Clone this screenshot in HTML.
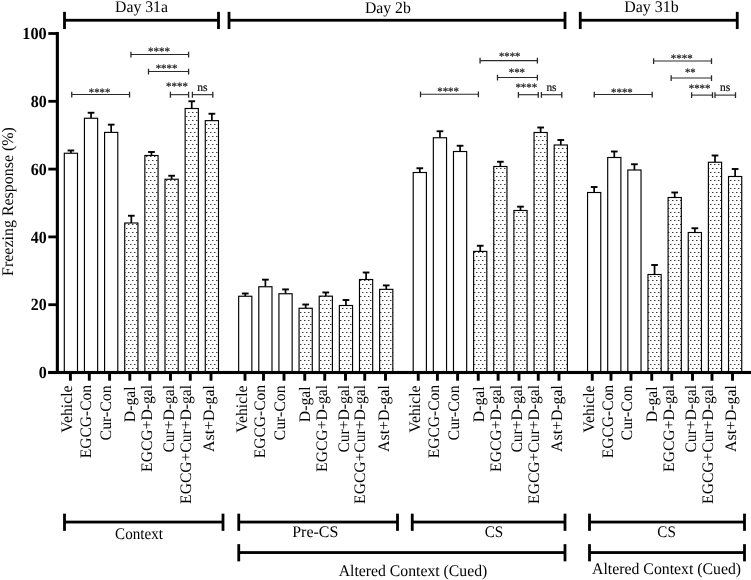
<!DOCTYPE html>
<html><head><meta charset="utf-8"><title>Freezing Response</title>
<style>html,body{margin:0;padding:0;background:#fff;}body{width:751px;height:580px;overflow:hidden;font-family:"Liberation Serif",serif;}svg{display:block;will-change:transform;}</style>
</head><body>
<svg width="751" height="580" viewBox="0 0 751 580" text-rendering="geometricPrecision">
<defs><pattern id="dots" x="0" y="0" width="4" height="8" patternUnits="userSpaceOnUse"><rect x="0" y="0" width="1.45" height="1" fill="#3a3a3a"/><rect x="2" y="4" width="1.45" height="1" fill="#3a3a3a"/></pattern></defs>
<rect width="751" height="580" fill="#fff"/>
<path d="M70.90 153.25V150.50" stroke="#000" stroke-width="1.7" fill="none"/>
<path d="M67.55 150.50H74.25" stroke="#000" stroke-width="1.9" fill="none"/>
<rect x="64.30" y="153.25" width="13.20" height="219.75" fill="#fff"/>
<rect x="64.30" y="153.25" width="13.20" height="219.75" fill="#fff" stroke="#000" stroke-width="1.15"/>
<path d="M91.04 118.25V112.75" stroke="#000" stroke-width="1.7" fill="none"/>
<path d="M87.69 112.75H94.39" stroke="#000" stroke-width="1.9" fill="none"/>
<rect x="84.44" y="118.25" width="13.20" height="254.75" fill="#fff"/>
<rect x="84.44" y="118.25" width="13.20" height="254.75" fill="#fff" stroke="#000" stroke-width="1.15"/>
<path d="M111.18 132.40V124.65" stroke="#000" stroke-width="1.7" fill="none"/>
<path d="M107.83 124.65H114.53" stroke="#000" stroke-width="1.9" fill="none"/>
<rect x="104.58" y="132.40" width="13.20" height="240.60" fill="#fff"/>
<rect x="104.58" y="132.40" width="13.20" height="240.60" fill="#fff" stroke="#000" stroke-width="1.15"/>
<path d="M131.32 223.00V215.75" stroke="#000" stroke-width="1.7" fill="none"/>
<path d="M127.97 215.75H134.67" stroke="#000" stroke-width="1.9" fill="none"/>
<rect x="124.72" y="223.00" width="13.20" height="150.00" fill="#fff"/>
<rect x="124.72" y="223.00" width="13.20" height="150.00" fill="url(#dots)" stroke="#000" stroke-width="1.15"/>
<path d="M151.46 155.50V152.00" stroke="#000" stroke-width="1.7" fill="none"/>
<path d="M148.11 152.00H154.81" stroke="#000" stroke-width="1.9" fill="none"/>
<rect x="144.86" y="155.50" width="13.20" height="217.50" fill="#fff"/>
<rect x="144.86" y="155.50" width="13.20" height="217.50" fill="url(#dots)" stroke="#000" stroke-width="1.15"/>
<path d="M171.60 179.25V175.75" stroke="#000" stroke-width="1.7" fill="none"/>
<path d="M168.25 175.75H174.95" stroke="#000" stroke-width="1.9" fill="none"/>
<rect x="165.00" y="179.25" width="13.20" height="193.75" fill="#fff"/>
<rect x="165.00" y="179.25" width="13.20" height="193.75" fill="url(#dots)" stroke="#000" stroke-width="1.15"/>
<path d="M191.74 108.50V101.25" stroke="#000" stroke-width="1.7" fill="none"/>
<path d="M188.39 101.25H195.09" stroke="#000" stroke-width="1.9" fill="none"/>
<rect x="185.14" y="108.50" width="13.20" height="264.50" fill="#fff"/>
<rect x="185.14" y="108.50" width="13.20" height="264.50" fill="url(#dots)" stroke="#000" stroke-width="1.15"/>
<path d="M211.88 120.65V113.75" stroke="#000" stroke-width="1.7" fill="none"/>
<path d="M208.53 113.75H215.23" stroke="#000" stroke-width="1.9" fill="none"/>
<rect x="205.28" y="120.65" width="13.20" height="252.35" fill="#fff"/>
<rect x="205.28" y="120.65" width="13.20" height="252.35" fill="url(#dots)" stroke="#000" stroke-width="1.15"/>
<path d="M245.25 296.25V293.50" stroke="#000" stroke-width="1.7" fill="none"/>
<path d="M241.90 293.50H248.60" stroke="#000" stroke-width="1.9" fill="none"/>
<rect x="238.65" y="296.25" width="13.20" height="76.75" fill="#fff"/>
<rect x="238.65" y="296.25" width="13.20" height="76.75" fill="#fff" stroke="#000" stroke-width="1.15"/>
<path d="M265.39 286.75V279.65" stroke="#000" stroke-width="1.7" fill="none"/>
<path d="M262.04 279.65H268.74" stroke="#000" stroke-width="1.9" fill="none"/>
<rect x="258.79" y="286.75" width="13.20" height="86.25" fill="#fff"/>
<rect x="258.79" y="286.75" width="13.20" height="86.25" fill="#fff" stroke="#000" stroke-width="1.15"/>
<path d="M285.53 293.75V289.40" stroke="#000" stroke-width="1.7" fill="none"/>
<path d="M282.18 289.40H288.88" stroke="#000" stroke-width="1.9" fill="none"/>
<rect x="278.93" y="293.75" width="13.20" height="79.25" fill="#fff"/>
<rect x="278.93" y="293.75" width="13.20" height="79.25" fill="#fff" stroke="#000" stroke-width="1.15"/>
<path d="M305.67 308.25V304.50" stroke="#000" stroke-width="1.7" fill="none"/>
<path d="M302.32 304.50H309.02" stroke="#000" stroke-width="1.9" fill="none"/>
<rect x="299.07" y="308.25" width="13.20" height="64.75" fill="#fff"/>
<rect x="299.07" y="308.25" width="13.20" height="64.75" fill="url(#dots)" stroke="#000" stroke-width="1.15"/>
<path d="M325.81 296.15V292.45" stroke="#000" stroke-width="1.7" fill="none"/>
<path d="M322.46 292.45H329.16" stroke="#000" stroke-width="1.9" fill="none"/>
<rect x="319.21" y="296.15" width="13.20" height="76.85" fill="#fff"/>
<rect x="319.21" y="296.15" width="13.20" height="76.85" fill="url(#dots)" stroke="#000" stroke-width="1.15"/>
<path d="M345.95 305.50V300.00" stroke="#000" stroke-width="1.7" fill="none"/>
<path d="M342.60 300.00H349.30" stroke="#000" stroke-width="1.9" fill="none"/>
<rect x="339.35" y="305.50" width="13.20" height="67.50" fill="#fff"/>
<rect x="339.35" y="305.50" width="13.20" height="67.50" fill="url(#dots)" stroke="#000" stroke-width="1.15"/>
<path d="M366.09 279.50V272.50" stroke="#000" stroke-width="1.7" fill="none"/>
<path d="M362.74 272.50H369.44" stroke="#000" stroke-width="1.9" fill="none"/>
<rect x="359.49" y="279.50" width="13.20" height="93.50" fill="#fff"/>
<rect x="359.49" y="279.50" width="13.20" height="93.50" fill="url(#dots)" stroke="#000" stroke-width="1.15"/>
<path d="M386.23 289.35V285.40" stroke="#000" stroke-width="1.7" fill="none"/>
<path d="M382.88 285.40H389.58" stroke="#000" stroke-width="1.9" fill="none"/>
<rect x="379.63" y="289.35" width="13.20" height="83.65" fill="#fff"/>
<rect x="379.63" y="289.35" width="13.20" height="83.65" fill="url(#dots)" stroke="#000" stroke-width="1.15"/>
<path d="M419.80 172.50V168.25" stroke="#000" stroke-width="1.7" fill="none"/>
<path d="M416.45 168.25H423.15" stroke="#000" stroke-width="1.9" fill="none"/>
<rect x="413.20" y="172.50" width="13.20" height="200.50" fill="#fff"/>
<rect x="413.20" y="172.50" width="13.20" height="200.50" fill="#fff" stroke="#000" stroke-width="1.15"/>
<path d="M439.94 137.75V131.25" stroke="#000" stroke-width="1.7" fill="none"/>
<path d="M436.59 131.25H443.29" stroke="#000" stroke-width="1.9" fill="none"/>
<rect x="433.34" y="137.75" width="13.20" height="235.25" fill="#fff"/>
<rect x="433.34" y="137.75" width="13.20" height="235.25" fill="#fff" stroke="#000" stroke-width="1.15"/>
<path d="M460.08 151.50V145.75" stroke="#000" stroke-width="1.7" fill="none"/>
<path d="M456.73 145.75H463.43" stroke="#000" stroke-width="1.9" fill="none"/>
<rect x="453.48" y="151.50" width="13.20" height="221.50" fill="#fff"/>
<rect x="453.48" y="151.50" width="13.20" height="221.50" fill="#fff" stroke="#000" stroke-width="1.15"/>
<path d="M480.22 251.40V245.75" stroke="#000" stroke-width="1.7" fill="none"/>
<path d="M476.87 245.75H483.57" stroke="#000" stroke-width="1.9" fill="none"/>
<rect x="473.62" y="251.40" width="13.20" height="121.60" fill="#fff"/>
<rect x="473.62" y="251.40" width="13.20" height="121.60" fill="url(#dots)" stroke="#000" stroke-width="1.15"/>
<path d="M500.36 166.50V161.75" stroke="#000" stroke-width="1.7" fill="none"/>
<path d="M497.01 161.75H503.71" stroke="#000" stroke-width="1.9" fill="none"/>
<rect x="493.76" y="166.50" width="13.20" height="206.50" fill="#fff"/>
<rect x="493.76" y="166.50" width="13.20" height="206.50" fill="url(#dots)" stroke="#000" stroke-width="1.15"/>
<path d="M520.50 210.50V206.65" stroke="#000" stroke-width="1.7" fill="none"/>
<path d="M517.15 206.65H523.85" stroke="#000" stroke-width="1.9" fill="none"/>
<rect x="513.90" y="210.50" width="13.20" height="162.50" fill="#fff"/>
<rect x="513.90" y="210.50" width="13.20" height="162.50" fill="url(#dots)" stroke="#000" stroke-width="1.15"/>
<path d="M540.64 132.50V127.50" stroke="#000" stroke-width="1.7" fill="none"/>
<path d="M537.29 127.50H543.99" stroke="#000" stroke-width="1.9" fill="none"/>
<rect x="534.04" y="132.50" width="13.20" height="240.50" fill="#fff"/>
<rect x="534.04" y="132.50" width="13.20" height="240.50" fill="url(#dots)" stroke="#000" stroke-width="1.15"/>
<path d="M560.78 145.00V140.00" stroke="#000" stroke-width="1.7" fill="none"/>
<path d="M557.43 140.00H564.13" stroke="#000" stroke-width="1.9" fill="none"/>
<rect x="554.18" y="145.00" width="13.20" height="228.00" fill="#fff"/>
<rect x="554.18" y="145.00" width="13.20" height="228.00" fill="url(#dots)" stroke="#000" stroke-width="1.15"/>
<path d="M594.15 192.50V187.00" stroke="#000" stroke-width="1.7" fill="none"/>
<path d="M590.80 187.00H597.50" stroke="#000" stroke-width="1.9" fill="none"/>
<rect x="587.55" y="192.50" width="13.20" height="180.50" fill="#fff"/>
<rect x="587.55" y="192.50" width="13.20" height="180.50" fill="#fff" stroke="#000" stroke-width="1.15"/>
<path d="M614.29 157.50V151.50" stroke="#000" stroke-width="1.7" fill="none"/>
<path d="M610.94 151.50H617.64" stroke="#000" stroke-width="1.9" fill="none"/>
<rect x="607.69" y="157.50" width="13.20" height="215.50" fill="#fff"/>
<rect x="607.69" y="157.50" width="13.20" height="215.50" fill="#fff" stroke="#000" stroke-width="1.15"/>
<path d="M634.43 170.00V164.25" stroke="#000" stroke-width="1.7" fill="none"/>
<path d="M631.08 164.25H637.78" stroke="#000" stroke-width="1.9" fill="none"/>
<rect x="627.83" y="170.00" width="13.20" height="203.00" fill="#fff"/>
<rect x="627.83" y="170.00" width="13.20" height="203.00" fill="#fff" stroke="#000" stroke-width="1.15"/>
<path d="M654.57 274.50V265.00" stroke="#000" stroke-width="1.7" fill="none"/>
<path d="M651.22 265.00H657.92" stroke="#000" stroke-width="1.9" fill="none"/>
<rect x="647.97" y="274.50" width="13.20" height="98.50" fill="#fff"/>
<rect x="647.97" y="274.50" width="13.20" height="98.50" fill="url(#dots)" stroke="#000" stroke-width="1.15"/>
<path d="M674.71 197.50V192.50" stroke="#000" stroke-width="1.7" fill="none"/>
<path d="M671.36 192.50H678.06" stroke="#000" stroke-width="1.9" fill="none"/>
<rect x="668.11" y="197.50" width="13.20" height="175.50" fill="#fff"/>
<rect x="668.11" y="197.50" width="13.20" height="175.50" fill="url(#dots)" stroke="#000" stroke-width="1.15"/>
<path d="M694.85 232.50V228.25" stroke="#000" stroke-width="1.7" fill="none"/>
<path d="M691.50 228.25H698.20" stroke="#000" stroke-width="1.9" fill="none"/>
<rect x="688.25" y="232.50" width="13.20" height="140.50" fill="#fff"/>
<rect x="688.25" y="232.50" width="13.20" height="140.50" fill="url(#dots)" stroke="#000" stroke-width="1.15"/>
<path d="M714.99 162.25V155.50" stroke="#000" stroke-width="1.7" fill="none"/>
<path d="M711.64 155.50H718.34" stroke="#000" stroke-width="1.9" fill="none"/>
<rect x="708.39" y="162.25" width="13.20" height="210.75" fill="#fff"/>
<rect x="708.39" y="162.25" width="13.20" height="210.75" fill="url(#dots)" stroke="#000" stroke-width="1.15"/>
<path d="M735.13 176.50V169.00" stroke="#000" stroke-width="1.7" fill="none"/>
<path d="M731.78 169.00H738.48" stroke="#000" stroke-width="1.9" fill="none"/>
<rect x="728.53" y="176.50" width="13.20" height="196.50" fill="#fff"/>
<rect x="728.53" y="176.50" width="13.20" height="196.50" fill="url(#dots)" stroke="#000" stroke-width="1.15"/>
<rect x="55.8" y="31.95" width="3.1" height="342.05" fill="#000"/>
<rect x="48.3" y="370.95" width="702.7" height="3.1" fill="#000"/>
<rect x="48.3" y="371.10" width="9" height="2.8" fill="#000"/>
<text x="46.7" y="378.10" text-anchor="end" textLength="8.0" lengthAdjust="spacingAndGlyphs" font-family="Liberation Serif, serif" font-weight="bold" font-size="17">0</text>
<rect x="48.3" y="303.30" width="9" height="2.8" fill="#000"/>
<text x="46.7" y="310.30" text-anchor="end" textLength="15.9" lengthAdjust="spacingAndGlyphs" font-family="Liberation Serif, serif" font-weight="bold" font-size="17">20</text>
<rect x="48.3" y="235.50" width="9" height="2.8" fill="#000"/>
<text x="46.7" y="242.50" text-anchor="end" textLength="15.9" lengthAdjust="spacingAndGlyphs" font-family="Liberation Serif, serif" font-weight="bold" font-size="17">40</text>
<rect x="48.3" y="167.70" width="9" height="2.8" fill="#000"/>
<text x="46.7" y="174.70" text-anchor="end" textLength="15.9" lengthAdjust="spacingAndGlyphs" font-family="Liberation Serif, serif" font-weight="bold" font-size="17">60</text>
<rect x="48.3" y="99.90" width="9" height="2.8" fill="#000"/>
<text x="46.7" y="106.90" text-anchor="end" textLength="15.9" lengthAdjust="spacingAndGlyphs" font-family="Liberation Serif, serif" font-weight="bold" font-size="17">80</text>
<rect x="48.3" y="32.10" width="9" height="2.8" fill="#000"/>
<text x="46.7" y="39.10" text-anchor="end" textLength="24.4" lengthAdjust="spacingAndGlyphs" font-family="Liberation Serif, serif" font-weight="bold" font-size="17">100</text>
<text transform="translate(12.5,201.5) rotate(-90)" text-anchor="middle" textLength="148.8" lengthAdjust="spacingAndGlyphs" font-family="Liberation Serif, serif" font-size="16.2">Freezing Response (%)</text>
<rect x="68.95" y="373.50" width="2.9" height="7.2" fill="#000"/>
<text transform="translate(72.00,385.5) rotate(-90)" text-anchor="end" textLength="47.2" lengthAdjust="spacingAndGlyphs" font-family="Liberation Serif, serif" font-size="16.0">Vehicle</text>
<rect x="87.85" y="373.50" width="2.9" height="7.2" fill="#000"/>
<text transform="translate(91.15,385.0) rotate(-90)" text-anchor="end" textLength="73.2" lengthAdjust="spacingAndGlyphs" font-family="Liberation Serif, serif" font-size="16.0">EGCG-Con</text>
<rect x="108.15" y="373.50" width="2.9" height="7.2" fill="#000"/>
<text transform="translate(110.90,385.4) rotate(-90)" text-anchor="end" textLength="55.0" lengthAdjust="spacingAndGlyphs" font-family="Liberation Serif, serif" font-size="16.0">Cur-Con</text>
<rect x="128.35" y="373.50" width="2.9" height="7.2" fill="#000"/>
<text transform="translate(135.40,386.4) rotate(-90)" text-anchor="end" textLength="35.8" lengthAdjust="spacingAndGlyphs" font-family="Liberation Serif, serif" font-size="16.0">D-gal</text>
<rect x="148.35" y="373.50" width="2.9" height="7.2" fill="#000"/>
<text transform="translate(152.20,385.0) rotate(-90)" text-anchor="end" textLength="86.9" lengthAdjust="spacingAndGlyphs" font-family="Liberation Serif, serif" font-size="16.0">EGCG+D-gal</text>
<rect x="169.05" y="373.50" width="2.9" height="7.2" fill="#000"/>
<text transform="translate(173.65,384.9) rotate(-90)" text-anchor="end" textLength="67.7" lengthAdjust="spacingAndGlyphs" font-family="Liberation Serif, serif" font-size="16.0">Cur+D-gal</text>
<rect x="188.85" y="373.50" width="2.9" height="7.2" fill="#000"/>
<text transform="translate(191.00,385.0) rotate(-90)" text-anchor="end" textLength="118.9" lengthAdjust="spacingAndGlyphs" font-family="Liberation Serif, serif" font-size="16.0">EGCG+Cur+D-gal</text>
<rect x="209.55" y="373.50" width="2.9" height="7.2" fill="#000"/>
<text transform="translate(214.20,385.1) rotate(-90)" text-anchor="end" textLength="66.8" lengthAdjust="spacingAndGlyphs" font-family="Liberation Serif, serif" font-size="16.0">Ast+D-gal</text>
<rect x="243.55" y="373.50" width="2.9" height="7.2" fill="#000"/>
<text transform="translate(246.60,385.5) rotate(-90)" text-anchor="end" textLength="47.2" lengthAdjust="spacingAndGlyphs" font-family="Liberation Serif, serif" font-size="16.0">Vehicle</text>
<rect x="262.05" y="373.50" width="2.9" height="7.2" fill="#000"/>
<text transform="translate(265.35,385.0) rotate(-90)" text-anchor="end" textLength="73.2" lengthAdjust="spacingAndGlyphs" font-family="Liberation Serif, serif" font-size="16.0">EGCG-Con</text>
<rect x="282.55" y="373.50" width="2.9" height="7.2" fill="#000"/>
<text transform="translate(285.30,385.4) rotate(-90)" text-anchor="end" textLength="55.0" lengthAdjust="spacingAndGlyphs" font-family="Liberation Serif, serif" font-size="16.0">Cur-Con</text>
<rect x="303.30" y="373.50" width="2.9" height="7.2" fill="#000"/>
<text transform="translate(310.35,386.4) rotate(-90)" text-anchor="end" textLength="35.8" lengthAdjust="spacingAndGlyphs" font-family="Liberation Serif, serif" font-size="16.0">D-gal</text>
<rect x="323.30" y="373.50" width="2.9" height="7.2" fill="#000"/>
<text transform="translate(327.15,385.0) rotate(-90)" text-anchor="end" textLength="86.9" lengthAdjust="spacingAndGlyphs" font-family="Liberation Serif, serif" font-size="16.0">EGCG+D-gal</text>
<rect x="344.05" y="373.50" width="2.9" height="7.2" fill="#000"/>
<text transform="translate(348.65,384.9) rotate(-90)" text-anchor="end" textLength="67.7" lengthAdjust="spacingAndGlyphs" font-family="Liberation Serif, serif" font-size="16.0">Cur+D-gal</text>
<rect x="363.30" y="373.50" width="2.9" height="7.2" fill="#000"/>
<text transform="translate(365.45,385.0) rotate(-90)" text-anchor="end" textLength="118.9" lengthAdjust="spacingAndGlyphs" font-family="Liberation Serif, serif" font-size="16.0">EGCG+Cur+D-gal</text>
<rect x="384.05" y="373.50" width="2.9" height="7.2" fill="#000"/>
<text transform="translate(388.70,385.1) rotate(-90)" text-anchor="end" textLength="66.8" lengthAdjust="spacingAndGlyphs" font-family="Liberation Serif, serif" font-size="16.0">Ast+D-gal</text>
<rect x="416.80" y="373.50" width="2.9" height="7.2" fill="#000"/>
<text transform="translate(419.85,385.5) rotate(-90)" text-anchor="end" textLength="47.2" lengthAdjust="spacingAndGlyphs" font-family="Liberation Serif, serif" font-size="16.0">Vehicle</text>
<rect x="435.95" y="373.50" width="2.9" height="7.2" fill="#000"/>
<text transform="translate(439.25,385.0) rotate(-90)" text-anchor="end" textLength="73.2" lengthAdjust="spacingAndGlyphs" font-family="Liberation Serif, serif" font-size="16.0">EGCG-Con</text>
<rect x="456.15" y="373.50" width="2.9" height="7.2" fill="#000"/>
<text transform="translate(458.90,385.4) rotate(-90)" text-anchor="end" textLength="55.0" lengthAdjust="spacingAndGlyphs" font-family="Liberation Serif, serif" font-size="16.0">Cur-Con</text>
<rect x="476.80" y="373.50" width="2.9" height="7.2" fill="#000"/>
<text transform="translate(483.85,386.4) rotate(-90)" text-anchor="end" textLength="35.8" lengthAdjust="spacingAndGlyphs" font-family="Liberation Serif, serif" font-size="16.0">D-gal</text>
<rect x="496.65" y="373.50" width="2.9" height="7.2" fill="#000"/>
<text transform="translate(500.50,385.0) rotate(-90)" text-anchor="end" textLength="86.9" lengthAdjust="spacingAndGlyphs" font-family="Liberation Serif, serif" font-size="16.0">EGCG+D-gal</text>
<rect x="517.55" y="373.50" width="2.9" height="7.2" fill="#000"/>
<text transform="translate(522.15,384.9) rotate(-90)" text-anchor="end" textLength="67.7" lengthAdjust="spacingAndGlyphs" font-family="Liberation Serif, serif" font-size="16.0">Cur+D-gal</text>
<rect x="536.80" y="373.50" width="2.9" height="7.2" fill="#000"/>
<text transform="translate(538.95,385.0) rotate(-90)" text-anchor="end" textLength="118.9" lengthAdjust="spacingAndGlyphs" font-family="Liberation Serif, serif" font-size="16.0">EGCG+Cur+D-gal</text>
<rect x="557.55" y="373.50" width="2.9" height="7.2" fill="#000"/>
<text transform="translate(562.20,385.1) rotate(-90)" text-anchor="end" textLength="66.8" lengthAdjust="spacingAndGlyphs" font-family="Liberation Serif, serif" font-size="16.0">Ast+D-gal</text>
<rect x="590.80" y="373.50" width="2.9" height="7.2" fill="#000"/>
<text transform="translate(593.85,385.5) rotate(-90)" text-anchor="end" textLength="47.2" lengthAdjust="spacingAndGlyphs" font-family="Liberation Serif, serif" font-size="16.0">Vehicle</text>
<rect x="609.55" y="373.50" width="2.9" height="7.2" fill="#000"/>
<text transform="translate(612.85,385.0) rotate(-90)" text-anchor="end" textLength="73.2" lengthAdjust="spacingAndGlyphs" font-family="Liberation Serif, serif" font-size="16.0">EGCG-Con</text>
<rect x="629.55" y="373.50" width="2.9" height="7.2" fill="#000"/>
<text transform="translate(632.30,385.4) rotate(-90)" text-anchor="end" textLength="55.0" lengthAdjust="spacingAndGlyphs" font-family="Liberation Serif, serif" font-size="16.0">Cur-Con</text>
<rect x="650.30" y="373.50" width="2.9" height="7.2" fill="#000"/>
<text transform="translate(657.35,386.4) rotate(-90)" text-anchor="end" textLength="35.8" lengthAdjust="spacingAndGlyphs" font-family="Liberation Serif, serif" font-size="16.0">D-gal</text>
<rect x="670.30" y="373.50" width="2.9" height="7.2" fill="#000"/>
<text transform="translate(674.15,385.0) rotate(-90)" text-anchor="end" textLength="86.9" lengthAdjust="spacingAndGlyphs" font-family="Liberation Serif, serif" font-size="16.0">EGCG+D-gal</text>
<rect x="691.05" y="373.50" width="2.9" height="7.2" fill="#000"/>
<text transform="translate(695.65,384.9) rotate(-90)" text-anchor="end" textLength="67.7" lengthAdjust="spacingAndGlyphs" font-family="Liberation Serif, serif" font-size="16.0">Cur+D-gal</text>
<rect x="710.55" y="373.50" width="2.9" height="7.2" fill="#000"/>
<text transform="translate(712.70,385.0) rotate(-90)" text-anchor="end" textLength="118.9" lengthAdjust="spacingAndGlyphs" font-family="Liberation Serif, serif" font-size="16.0">EGCG+Cur+D-gal</text>
<rect x="731.05" y="373.50" width="2.9" height="7.2" fill="#000"/>
<text transform="translate(735.70,385.1) rotate(-90)" text-anchor="end" textLength="66.8" lengthAdjust="spacingAndGlyphs" font-family="Liberation Serif, serif" font-size="16.0">Ast+D-gal</text>
<rect x="64.50" y="18.85" width="154.00" height="2.8" fill="#000"/>
<rect x="63.10" y="11.85" width="2.8" height="17.20" fill="#000"/>
<rect x="217.10" y="11.85" width="2.8" height="17.20" fill="#000"/>
<text x="141.50" y="12.00" text-anchor="middle" textLength="53" lengthAdjust="spacingAndGlyphs" font-family="Liberation Serif, serif" font-size="16.2" fill="#000">Day 31a</text>
<rect x="229.00" y="18.85" width="336.00" height="2.8" fill="#000"/>
<rect x="227.60" y="11.85" width="2.8" height="17.20" fill="#000"/>
<rect x="563.60" y="11.85" width="2.8" height="17.20" fill="#000"/>
<text x="387.90" y="12.80" text-anchor="middle" textLength="45.8" lengthAdjust="spacingAndGlyphs" font-family="Liberation Serif, serif" font-size="16.2" fill="#000">Day 2b</text>
<rect x="580.25" y="18.85" width="157.00" height="2.8" fill="#000"/>
<rect x="578.85" y="11.85" width="2.8" height="17.20" fill="#000"/>
<rect x="735.85" y="11.85" width="2.8" height="17.20" fill="#000"/>
<text x="651.40" y="12.00" text-anchor="middle" textLength="54.5" lengthAdjust="spacingAndGlyphs" font-family="Liberation Serif, serif" font-size="16.2" fill="#000">Day 31b</text>
<rect x="64.50" y="520.65" width="158.50" height="2.8" fill="#000"/>
<rect x="63.10" y="513.65" width="2.8" height="17.20" fill="#000"/>
<rect x="221.60" y="513.65" width="2.8" height="17.20" fill="#000"/>
<text x="139.00" y="539.25" text-anchor="middle" textLength="47.8" lengthAdjust="spacingAndGlyphs" font-family="Liberation Serif, serif" font-size="16.2" fill="#000">Context</text>
<rect x="238.75" y="520.65" width="158.75" height="2.8" fill="#000"/>
<rect x="237.35" y="513.65" width="2.8" height="17.20" fill="#000"/>
<rect x="396.10" y="513.65" width="2.8" height="17.20" fill="#000"/>
<text x="315.25" y="537.40" text-anchor="middle" textLength="46" lengthAdjust="spacingAndGlyphs" font-family="Liberation Serif, serif" font-size="16.2" fill="#000">Pre-CS</text>
<rect x="412.25" y="520.65" width="152.75" height="2.8" fill="#000"/>
<rect x="410.85" y="513.65" width="2.8" height="17.20" fill="#000"/>
<rect x="563.60" y="513.65" width="2.8" height="17.20" fill="#000"/>
<text x="494.00" y="537.20" text-anchor="middle" textLength="18.5" lengthAdjust="spacingAndGlyphs" font-family="Liberation Serif, serif" font-size="16.2" fill="#000">CS</text>
<rect x="589.50" y="520.65" width="155.00" height="2.8" fill="#000"/>
<rect x="588.10" y="513.65" width="2.8" height="17.20" fill="#000"/>
<rect x="743.10" y="513.65" width="2.8" height="17.20" fill="#000"/>
<text x="666.60" y="537.20" text-anchor="middle" textLength="18.5" lengthAdjust="spacingAndGlyphs" font-family="Liberation Serif, serif" font-size="16.2" fill="#000">CS</text>
<rect x="238.75" y="551.15" width="326.25" height="2.8" fill="#000"/>
<rect x="237.35" y="544.15" width="2.8" height="17.20" fill="#000"/>
<rect x="563.60" y="544.15" width="2.8" height="17.20" fill="#000"/>
<text x="413.00" y="575.80" text-anchor="middle" textLength="148.6" lengthAdjust="spacingAndGlyphs" font-family="Liberation Serif, serif" font-size="16.2" fill="#000">Altered Context (Cued)</text>
<rect x="589.50" y="551.15" width="155.00" height="2.8" fill="#000"/>
<rect x="588.10" y="544.15" width="2.8" height="17.20" fill="#000"/>
<rect x="743.10" y="544.15" width="2.8" height="17.20" fill="#000"/>
<text x="666.60" y="574.00" text-anchor="middle" textLength="149" lengthAdjust="spacingAndGlyphs" font-family="Liberation Serif, serif" font-size="16.2" fill="#000">Altered Context (Cued)</text>
<path d="M71.75 94.50H129.55" stroke="#2a2a2a" stroke-width="1.1" fill="none"/>
<path d="M71.75 91.70V97.50M129.55 91.70V97.50" stroke="#2a2a2a" stroke-width="1.3" fill="none"/>
<text x="99.50" y="96.00" text-anchor="middle" textLength="21.5" lengthAdjust="spacingAndGlyphs" stroke="#222" stroke-width="0.2" font-family="Liberation Serif, serif" font-size="11.6" fill="#222">****</text>
<path d="M130.95 54.50H188.60" stroke="#2a2a2a" stroke-width="1.1" fill="none"/>
<path d="M130.95 51.70V57.50M188.60 51.70V57.50" stroke="#2a2a2a" stroke-width="1.3" fill="none"/>
<text x="158.96" y="55.40" text-anchor="middle" textLength="22.1" lengthAdjust="spacingAndGlyphs" stroke="#222" stroke-width="0.2" font-family="Liberation Serif, serif" font-size="11.6" fill="#222">****</text>
<path d="M148.50 71.50H188.60" stroke="#2a2a2a" stroke-width="1.1" fill="none"/>
<path d="M148.50 68.70V74.50M188.60 68.70V74.50" stroke="#2a2a2a" stroke-width="1.3" fill="none"/>
<text x="166.50" y="71.70" text-anchor="middle" textLength="21.7" lengthAdjust="spacingAndGlyphs" stroke="#222" stroke-width="0.2" font-family="Liberation Serif, serif" font-size="11.6" fill="#222">****</text>
<path d="M170.40 94.65H188.60" stroke="#2a2a2a" stroke-width="1.1" fill="none"/>
<path d="M170.40 91.85V97.65M188.60 91.85V97.65" stroke="#2a2a2a" stroke-width="1.3" fill="none"/>
<text x="177.00" y="90.15" text-anchor="middle" textLength="21.9" lengthAdjust="spacingAndGlyphs" stroke="#222" stroke-width="0.2" font-family="Liberation Serif, serif" font-size="11.6" fill="#222">****</text>
<path d="M192.40 94.65H212.80" stroke="#2a2a2a" stroke-width="1.1" fill="none"/>
<path d="M192.40 91.85V97.65M212.80 91.85V97.65" stroke="#2a2a2a" stroke-width="1.3" fill="none"/>
<text x="202.35" y="90.60" text-anchor="middle" textLength="10.299999999999999" lengthAdjust="spacingAndGlyphs" stroke="#111" stroke-width="0.2" font-family="Liberation Serif, serif" font-size="11.8" fill="#111">ns</text>
<path d="M420.50 94.25H478.40" stroke="#2a2a2a" stroke-width="1.1" fill="none"/>
<path d="M420.50 91.45V97.25M478.40 91.45V97.25" stroke="#2a2a2a" stroke-width="1.3" fill="none"/>
<text x="448.10" y="94.75" text-anchor="middle" textLength="21.75" lengthAdjust="spacingAndGlyphs" stroke="#222" stroke-width="0.2" font-family="Liberation Serif, serif" font-size="11.6" fill="#222">****</text>
<path d="M480.06 60.60H537.40" stroke="#2a2a2a" stroke-width="1.1" fill="none"/>
<path d="M480.06 57.80V63.60M537.40 57.80V63.60" stroke="#2a2a2a" stroke-width="1.3" fill="none"/>
<text x="509.65" y="60.40" text-anchor="middle" textLength="21.5" lengthAdjust="spacingAndGlyphs" stroke="#222" stroke-width="0.2" font-family="Liberation Serif, serif" font-size="11.6" fill="#222">****</text>
<path d="M497.50 77.50H537.40" stroke="#2a2a2a" stroke-width="1.1" fill="none"/>
<path d="M497.50 74.70V80.50M537.40 74.70V80.50" stroke="#2a2a2a" stroke-width="1.3" fill="none"/>
<text x="516.90" y="76.40" text-anchor="middle" textLength="16.4" lengthAdjust="spacingAndGlyphs" stroke="#222" stroke-width="0.2" font-family="Liberation Serif, serif" font-size="11.6" fill="#222">***</text>
<path d="M518.40 94.70H538.25" stroke="#2a2a2a" stroke-width="1.1" fill="none"/>
<path d="M518.40 91.90V97.70M538.25 91.90V97.70" stroke="#2a2a2a" stroke-width="1.3" fill="none"/>
<text x="526.30" y="91.00" text-anchor="middle" textLength="21.8" lengthAdjust="spacingAndGlyphs" stroke="#222" stroke-width="0.2" font-family="Liberation Serif, serif" font-size="11.6" fill="#222">****</text>
<path d="M541.40 94.70H561.80" stroke="#2a2a2a" stroke-width="1.1" fill="none"/>
<path d="M541.40 91.90V97.70M561.80 91.90V97.70" stroke="#2a2a2a" stroke-width="1.3" fill="none"/>
<text x="551.45" y="90.80" text-anchor="middle" textLength="10.1" lengthAdjust="spacingAndGlyphs" stroke="#111" stroke-width="0.2" font-family="Liberation Serif, serif" font-size="11.8" fill="#111">ns</text>
<path d="M594.25 94.50H652.20" stroke="#2a2a2a" stroke-width="1.1" fill="none"/>
<path d="M594.25 91.70V97.50M652.20 91.70V97.50" stroke="#2a2a2a" stroke-width="1.3" fill="none"/>
<text x="621.90" y="95.50" text-anchor="middle" textLength="21.75" lengthAdjust="spacingAndGlyphs" stroke="#222" stroke-width="0.2" font-family="Liberation Serif, serif" font-size="11.6" fill="#222">****</text>
<path d="M653.60 61.00H711.50" stroke="#2a2a2a" stroke-width="1.1" fill="none"/>
<path d="M653.60 58.20V64.00M711.50 58.20V64.00" stroke="#2a2a2a" stroke-width="1.3" fill="none"/>
<text x="681.70" y="62.30" text-anchor="middle" textLength="22.1" lengthAdjust="spacingAndGlyphs" stroke="#222" stroke-width="0.2" font-family="Liberation Serif, serif" font-size="11.6" fill="#222">****</text>
<path d="M671.15 78.00H711.50" stroke="#2a2a2a" stroke-width="1.1" fill="none"/>
<path d="M671.15 75.20V81.00M711.50 75.20V81.00" stroke="#2a2a2a" stroke-width="1.3" fill="none"/>
<text x="690.25" y="76.40" text-anchor="middle" textLength="10.7" lengthAdjust="spacingAndGlyphs" stroke="#222" stroke-width="0.2" font-family="Liberation Serif, serif" font-size="11.6" fill="#222">**</text>
<path d="M691.60 95.10H712.50" stroke="#2a2a2a" stroke-width="1.1" fill="none"/>
<path d="M691.60 92.30V98.10M712.50 92.30V98.10" stroke="#2a2a2a" stroke-width="1.3" fill="none"/>
<text x="699.60" y="91.60" text-anchor="middle" textLength="21.8" lengthAdjust="spacingAndGlyphs" stroke="#222" stroke-width="0.2" font-family="Liberation Serif, serif" font-size="11.6" fill="#222">****</text>
<path d="M715.00 95.10H735.50" stroke="#2a2a2a" stroke-width="1.1" fill="none"/>
<path d="M715.00 92.30V98.10M735.50 92.30V98.10" stroke="#2a2a2a" stroke-width="1.3" fill="none"/>
<text x="725.20" y="91.20" text-anchor="middle" textLength="10.2" lengthAdjust="spacingAndGlyphs" stroke="#111" stroke-width="0.2" font-family="Liberation Serif, serif" font-size="11.8" fill="#111">ns</text>
</svg>
</body></html>
